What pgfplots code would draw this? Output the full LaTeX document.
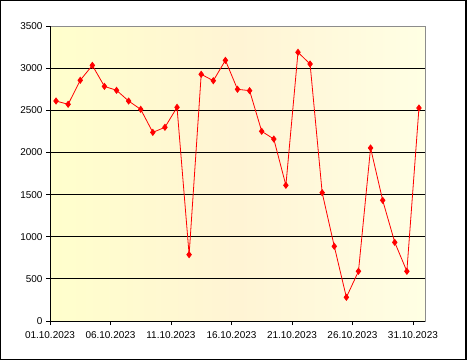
\documentclass[border=0pt]{standalone}
\usepackage{pgfplots}
\pgfplotsset{compat=1.18}
\usepackage{fontspec}
\setmainfont{Liberation Sans}
\definecolor{bgA}{RGB}{255,255,204}
\definecolor{bgB}{RGB}{255,244,212}
\definecolor{bgC}{RGB}{255,255,228}
\begin{document}
\begin{tikzpicture}[x=1bp,y=1bp]
\useasboundingbox (0,0) rectangle (467,360);
\draw[black,line width=1.2bp] (0.6,0.6) rectangle (466,359.4);
\begin{axis}[
  at={(50bp,39bp)}, anchor=south west,
  scale only axis, width=375bp, height=295bp,
  xmin=0.5, xmax=31.5, ymin=0, ymax=3500,
  xtick={0.5,5.5,10.5,15.5,20.5,25.5,30.5},
  xticklabels={01.10.2023,06.10.2023,11.10.2023,16.10.2023,21.10.2023,26.10.2023,31.10.2023},
  ytick={0,500,...,3500},
  xtick pos=bottom, ytick pos=left,
  tick align=outside, major tick length=4bp,
  tick style={black, line width=0.8bp},
  ymajorgrids, grid style={black, line width=0.9bp},
  axis line style={draw=gray!90, line width=0.9bp},
  tick label style={font=\fontsize{10}{12}\selectfont, text=black},
  /pgf/number format/assume math mode=true,
  /pgf/number format/1000 sep={},
  xticklabel style={yshift=-3bp},
  axis background/.style={left color=bgA, right color=bgC, middle color=bgB},
]
\addplot[red, line width=0.8bp, mark=diamond*, mark size=3bp, mark options={fill=red, draw=red}] coordinates {
(1,2610) (2,2571) (3,2856) (4,3033) (5,2784) (6,2737) (7,2610) (8,2511) (9,2238) (10,2298)
(11,2535) (12,787) (13,2927) (14,2851) (15,3093) (16,2749) (17,2733) (18,2251) (19,2159) (20,1610)
(21,3188) (22,3049) (23,1522) (24,886) (25,281) (26,590) (27,2053) (28,1432) (29,933) (30,590)
(31,2527)
};
\draw[black, line width=0.9bp] (rel axis cs:0,1) -- (rel axis cs:0,0) -- (rel axis cs:1,0);
\end{axis}
\end{tikzpicture}
\end{document}
